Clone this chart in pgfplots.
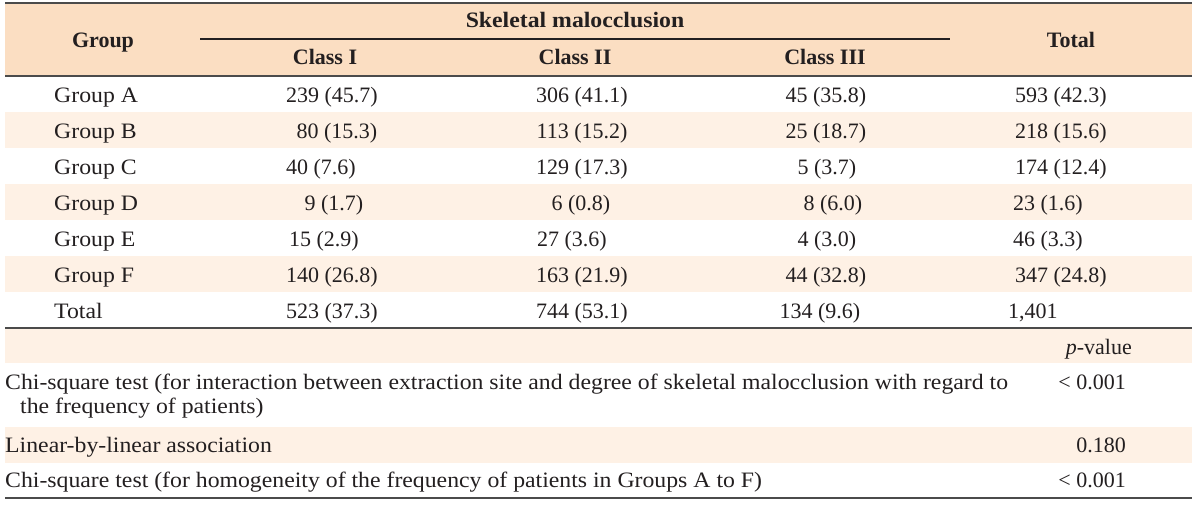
\documentclass[border=0pt]{standalone}
\usepackage{pgfplots}
\pgfplotsset{compat=1.18}
\usepackage{fontspec}
\setmainfont{Liberation Serif}
\newfontfamily\widefont{Liberation Serif}[FakeStretch=1.08]
\definecolor{hdr}{RGB}{251,222,194}
\definecolor{strip}{RGB}{254,241,229}
\definecolor{rulec}{RGB}{75,75,75}
\definecolor{txt}{RGB}{35,31,32}
\tikzset{cell/.style={text=txt, font=\fontsize{22}{25}\selectfont, inner sep=0pt, anchor=base},
         wcell/.style={text=txt, font=\fontsize{22}{25}\selectfont\widefont, inner sep=0pt, anchor=base west},
         hcell/.style={text=txt, font=\fontsize{22}{25}\selectfont\bfseries, inner sep=0pt, anchor=base}}
\begin{document}
\begin{tikzpicture}[font=\fontsize{22}{25}\selectfont]
\begin{axis}[scale only axis, width=1200pt, height=504pt,
  xmin=0, xmax=1200, ymin=0, ymax=504, y dir=reverse,
  hide axis, clip=false]
% backgrounds
\fill[hdr] (axis cs:5,3) rectangle (axis cs:1192,76);
\fill[strip] (axis cs:5,112) rectangle (axis cs:1192,148);
\fill[strip] (axis cs:5,184) rectangle (axis cs:1192,220);
\fill[strip] (axis cs:5,256) rectangle (axis cs:1192,292);
\fill[strip] (axis cs:5,328) rectangle (axis cs:1192,363);
\fill[strip] (axis cs:5,427) rectangle (axis cs:1192,463);
% rules
\draw[rulec, line width=2pt] (axis cs:5,3) -- (axis cs:1192,3);
\draw[rulec, line width=2pt] (axis cs:5,76) -- (axis cs:1192,76);
\draw[rulec, line width=2pt] (axis cs:5,328) -- (axis cs:1192,328);
\draw[rulec, line width=2pt] (axis cs:5,498) -- (axis cs:1192,498);
\draw[txt, line width=1.3pt] (axis cs:200,39) -- (axis cs:950,39);
% header
\node[hcell] at (axis cs:103,47) {Group};
\node[hcell, font=\fontsize{22}{25}\selectfont\widefont\bfseries] at (axis cs:575,27) {Skeletal malocclusion};
\node[hcell] at (axis cs:325,64) {Class I};
\node[hcell] at (axis cs:575,64) {Class II};
\node[hcell] at (axis cs:825,64) {Class III};
\node[hcell] at (axis cs:1071,47) {Total};
% row labels
\node[wcell] at (axis cs:54,102) {Group A};
\node[wcell] at (axis cs:54,138) {Group B};
\node[wcell] at (axis cs:54,174) {Group C};
\node[wcell] at (axis cs:54,210) {Group D};
\node[wcell] at (axis cs:54,246) {Group E};
\node[wcell] at (axis cs:54,282) {Group F};
\node[wcell] at (axis cs:54,318) {Total};
% Class I
\node[cell] at (axis cs:332,102) {239 (45.7)};
\node[cell] at (axis cs:337,138) {80 (15.3)};
\node[cell] at (axis cs:321,174) {40 (7.6)};
\node[cell] at (axis cs:334,210) {9 (1.7)};
\node[cell] at (axis cs:324,246) {15 (2.9)};
\node[cell] at (axis cs:332,282) {140 (26.8)};
\node[cell] at (axis cs:332,318) {523 (37.3)};
% Class II
\node[cell] at (axis cs:582,102) {306 (41.1)};
\node[cell] at (axis cs:582,138) {113 (15.2)};
\node[cell] at (axis cs:582,174) {129 (17.3)};
\node[cell] at (axis cs:581,210) {6 (0.8)};
\node[cell] at (axis cs:572,246) {27 (3.6)};
\node[cell] at (axis cs:582,282) {163 (21.9)};
\node[cell] at (axis cs:582,318) {744 (53.1)};
% Class III
\node[cell] at (axis cs:826,102) {45 (35.8)};
\node[cell] at (axis cs:826,138) {25 (18.7)};
\node[cell] at (axis cs:827,174) {5 (3.7)};
\node[cell] at (axis cs:833,210) {8 (6.0)};
\node[cell] at (axis cs:827,246) {4 (3.0)};
\node[cell] at (axis cs:826,282) {44 (32.8)};
\node[cell] at (axis cs:820,318) {134 (9.6)};
% Total
\node[cell] at (axis cs:1061,102) {593 (42.3)};
\node[cell] at (axis cs:1061,138) {218 (15.6)};
\node[cell] at (axis cs:1061,174) {174 (12.4)};
\node[cell] at (axis cs:1048,210) {23 (1.6)};
\node[cell] at (axis cs:1048,246) {46 (3.3)};
\node[cell] at (axis cs:1061,282) {347 (24.8)};
\node[cell,anchor=base west] at (axis cs:1008,318) {1,401};
% tests
\node[cell,anchor=base east] at (axis cs:1132,354) {\textit{p}-value};
\node[wcell] at (axis cs:5,389) {Chi-square test (for interaction between extraction site and degree of skeletal malocclusion with regard to};
\node[wcell] at (axis cs:20,413) {the frequency of patients)};
\node[cell,anchor=base east] at (axis cs:1126,389) {< 0.001};
\node[wcell] at (axis cs:5,452) {Linear-by-linear association};
\node[cell,anchor=base east] at (axis cs:1126,452) {0.180};
\node[wcell] at (axis cs:5,487) {Chi-square test (for homogeneity of the frequency of patients in Groups A to F)};
\node[cell,anchor=base east] at (axis cs:1126,487) {< 0.001};
\end{axis}
\pgfresetboundingbox
\path (current axis.south west) rectangle (current axis.north east);
\end{tikzpicture}
\end{document}
